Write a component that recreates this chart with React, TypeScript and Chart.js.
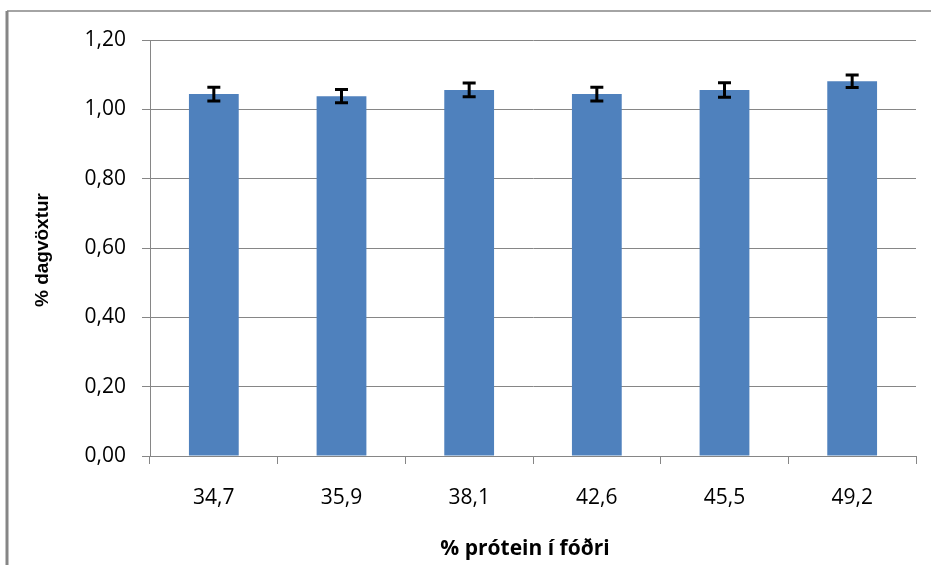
import React, { useEffect, useRef } from "react";
import { Chart, registerables } from "chart.js";

Chart.register(...registerables);

const categories = ["34,7", "35,9", "38,1", "42,6", "45,5", "49,2"];
const growth = [1.044, 1.038, 1.056, 1.044, 1.056, 1.081];
const errors = [0.02, 0.019, 0.02, 0.02, 0.021, 0.018];
const yTitle = "% dagvöxtur";
const xTitle = "% prótein í fóðri";

const errorBarPlugin = {
  id: "errorBars",
  afterDatasetsDraw(chart: any) {
    const ctx = chart.ctx;
    const meta = chart.getDatasetMeta(0);
    const y = chart.scales.y;
    ctx.save();
    ctx.strokeStyle = "#000";
    ctx.lineWidth = 3;
    meta.data.forEach((bar: any, i: number) => {
      const x = bar.x;
      const top = y.getPixelForValue(growth[i] + errors[i]);
      const bot = y.getPixelForValue(growth[i] - errors[i]);
      ctx.beginPath();
      ctx.moveTo(x, top);
      ctx.lineTo(x, bot);
      ctx.moveTo(x - 6.5, top);
      ctx.lineTo(x + 6.5, top);
      ctx.moveTo(x - 6.5, bot);
      ctx.lineTo(x + 6.5, bot);
      ctx.stroke();
    });
    ctx.restore();
  },
};

const framePlugin = {
  id: "frameTitles",
  afterDraw(chart: any) {
    const ctx = chart.ctx;
    ctx.save();
    ctx.strokeStyle = "#868686";
    ctx.lineWidth = 3;
    ctx.beginPath();
    ctx.moveTo(7, 565);
    ctx.lineTo(7, 11);
    ctx.stroke();
    ctx.lineWidth = 1.5;
    ctx.beginPath();
    ctx.moveTo(7, 11);
    ctx.lineTo(931, 11);
    ctx.stroke();

    ctx.fillStyle = "#000";
    ctx.textAlign = "center";
    ctx.textBaseline = "middle";
    ctx.font = "bold 21px 'Open Sans', sans-serif";
    ctx.fillText(xTitle, 525, 549);
    ctx.font = "bold 19px 'Liberation Sans', Arial, sans-serif";
    ctx.translate(43, 250);
    ctx.rotate(-Math.PI / 2);
    ctx.fillText(yTitle, 0, 0);
    ctx.restore();
  },
};

export default function App() {
  const ref = useRef<HTMLCanvasElement>(null);
  useEffect(() => {
    document.body.style.margin = "0";
    const chart = new Chart(ref.current!, {
      type: "bar",
      data: {
        labels: categories,
        datasets: [
          {
            data: growth,
            backgroundColor: "#4F81BD",
            barPercentage: 0.39,
            categoryPercentage: 1,
          },
        ],
      },
      options: {
        responsive: false,
        animation: false,
        layout: { padding: { top: 40, right: 15, left: 0, bottom: 0 } },
        plugins: { legend: { display: false }, tooltip: { enabled: false } },
        scales: {
          x: {
            afterFit(scale: any) {
              scale.height = 109;
            },
            grid: {
              drawOnChartArea: false,
              drawTicks: true,
              tickLength: 8,
              color: "#868686",
            },
            border: { color: "#868686" },
            ticks: {
              color: "#000",
              padding: 21,
              font: { family: "'Open Sans', sans-serif", size: 21 },
            },
          },
          y: {
            min: 0,
            max: 1.2,
            afterFit(scale: any) {
              scale.width = 150;
            },
            grid: { color: "#868686", tickLength: 8 },
            border: { color: "#868686" },
            ticks: {
              stepSize: 0.2,
              color: "#000",
              padding: 16,
              font: { family: "'Open Sans', sans-serif", size: 21 },
              callback: (v: any) => Number(v).toFixed(2).replace(".", ","),
            },
          },
        },
      },
      plugins: [errorBarPlugin, framePlugin],
    });
    return () => chart.destroy();
  }, []);
  return (
    <div style={{ position: "absolute", left: 0, top: 0, width: 931, height: 565, background: "#fff" }}>
      <canvas ref={ref} width={931} height={565} />
    </div>
  );
}
